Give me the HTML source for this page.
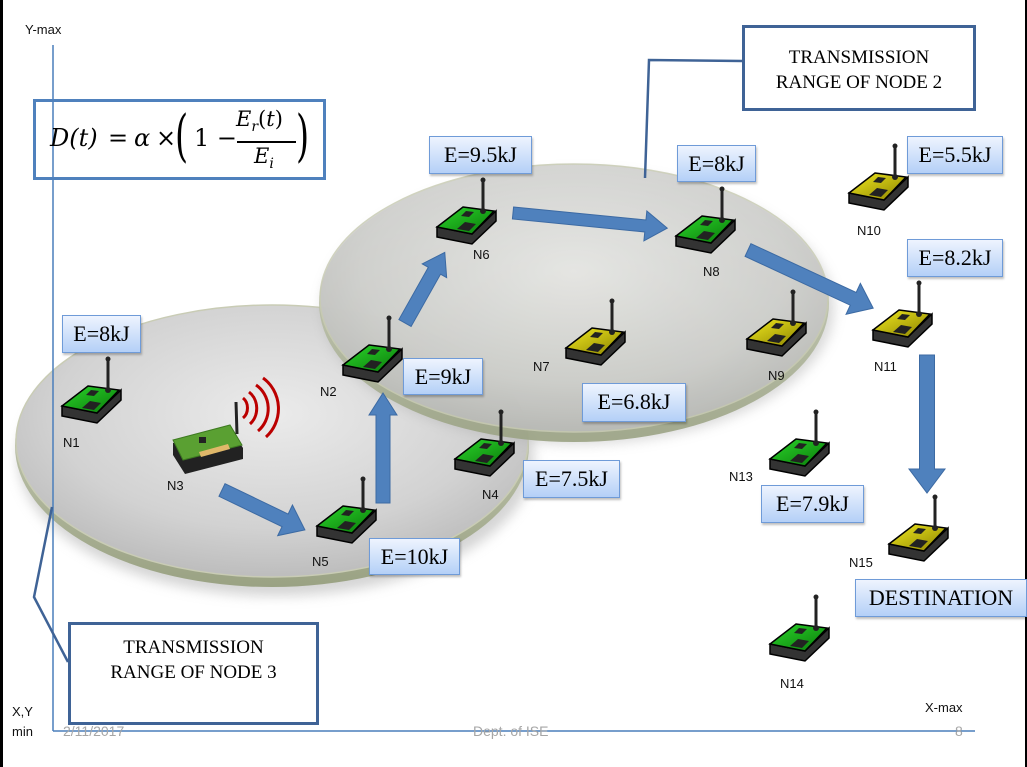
<!DOCTYPE html>
<html><head><meta charset="utf-8"><style>
html,body{margin:0;padding:0;background:#fff;}
body{width:1027px;height:767px;overflow:hidden;position:relative;font-family:"Liberation Sans",sans-serif;}
.eb{position:absolute;box-sizing:border-box;border:1.5px solid #6f9bd8;background:linear-gradient(#eef4fe,#b4d0f7);font-family:"Liberation Serif",serif;font-size:22px;color:#000;text-align:center;line-height:35px;box-shadow:1px 2px 2px rgba(0,0,0,0.25);}
.tb{position:absolute;box-sizing:border-box;border:3px solid #3f6396;background:#fff;font-family:"Liberation Serif",serif;font-size:19px;text-align:center;line-height:25px;}
.t{position:absolute;font-size:13px;color:#111;}
.ft{position:absolute;font-size:14px;color:#a6a6a6;}
</style></head><body>
<svg width="1027" height="767" style="position:absolute;left:0;top:0">
<defs>
<radialGradient id="disc" cx="50%" cy="40%" r="60%">
<stop offset="0" stop-color="#ebebeb"/><stop offset="0.7" stop-color="#d2d2d2"/><stop offset="1" stop-color="#bdbdbd"/>
</radialGradient>
<linearGradient id="rim" x1="0" y1="0" x2="0" y2="1">
<stop offset="0" stop-color="#d9dccb"/><stop offset="1" stop-color="#9aa283"/>
</linearGradient>
<linearGradient id="gtop" x1="0" y1="0" x2="1" y2="1"><stop offset="0" stop-color="#2bd52b"/><stop offset="1" stop-color="#0a7a0a"/></linearGradient>
<linearGradient id="ytop" x1="0" y1="0" x2="1" y2="1"><stop offset="0" stop-color="#f2ea20"/><stop offset="1" stop-color="#8a8200"/></linearGradient>
<g id="devbase">
<polygon points="-46,47 -11,54 13,31 13,41 -11,64 -46,57" fill="#333" stroke="#000" stroke-width="1.5"/>
</g>
<g id="chips">
<polygon points="-17,31 -9,32 -14,37 -22,36" fill="#222"/>
<polygon points="-18,42 -7,44 -14,51 -26,49" fill="#222"/>
<line x1="0" y1="0" x2="0" y2="30" stroke="#222" stroke-width="3"/>
<circle cx="0" cy="0" r="2.5" fill="#222"/>
<circle cx="0" cy="31" r="3" fill="#222"/>
</g>
<g id="gdev"><use href="#devbase"/><polygon points="-20,27 11,31 -11,54 -46,47" fill="url(#gtop)" stroke="#000" stroke-width="1.5"/><use href="#chips"/></g>
<g id="ydev"><use href="#devbase"/><polygon points="-20,27 11,31 -11,54 -46,47" fill="url(#ytop)" stroke="#000" stroke-width="1.5"/><use href="#chips"/></g>
<filter id="sh" x="-10%" y="-10%" width="120%" height="130%"><feGaussianBlur stdDeviation="6"/></filter>
</defs>
<rect x="0" y="0" width="3" height="767" fill="#000"/>
<rect x="1025" y="0" width="2" height="767" fill="#000"/>
<!-- disc 1 -->
<ellipse cx="276" cy="458" rx="258" ry="138" fill="#aaa" opacity="0.5" filter="url(#sh)"/>
<ellipse cx="272" cy="446" rx="257" ry="141" fill="url(#rim)"/>
<ellipse cx="272" cy="441" rx="256" ry="136" fill="url(#disc)" stroke="#c9ccb5" stroke-width="1.5"/>
<!-- disc 2 -->
<ellipse cx="578" cy="308" rx="256" ry="136" fill="#aaa" opacity="0.45" filter="url(#sh)"/>
<ellipse cx="574" cy="303" rx="255" ry="139" fill="url(#rim)" opacity="0.9"/>
<ellipse cx="574" cy="298" rx="254" ry="134" fill="url(#disc)" opacity="0.85" stroke="#c9ccb5" stroke-width="1.5"/>
<line x1="53" y1="45" x2="53" y2="731" stroke="#4a7ebb" stroke-width="1.5"/>
<line x1="53" y1="731" x2="975" y2="731" stroke="#4a7ebb" stroke-width="1.5"/>
<polyline points="68,662 34,597 52,507" fill="none" stroke="#3f6396" stroke-width="2.5"/>
<polyline points="742,61 649,60 645,178" fill="none" stroke="#3f6396" stroke-width="2.5"/>
<g fill="#4f81bd" stroke="#3c6aa3" stroke-width="1">
<polygon transform="translate(222,490) rotate(25.7)" points="0,-7 70,-7 70,-17 92,0 70,17 70,7 0,7"/>
<polygon transform="translate(383,503) rotate(-90)" points="0,-7 88,-7 88,-14 110,0 88,14 88,7 0,7"/>
<polygon transform="translate(405,323) rotate(-60.6)" points="0,-7 60,-7 60,-14 81,0 60,14 60,7 0,7"/>
<polygon transform="translate(513,213) rotate(5.6)" points="0,-6 133,-6 133,-15 155,0 133,15 133,6 0,6"/>
<polygon transform="translate(748,250) rotate(24.9)" points="0,-7 116,-7 116,-17 138,0 116,17 116,7 0,7"/>
<polygon transform="translate(927,355) rotate(90)" points="0,-7.5 114,-7.5 114,-18 138,0 114,18 114,7.5 0,7.5"/>
</g>
<use href="#gdev" x="108" y="359"/>
<use href="#gdev" x="389" y="318"/>
<use href="#gdev" x="483" y="180"/>
<use href="#gdev" x="722" y="189"/>
<use href="#ydev" x="895" y="146"/>
<use href="#ydev" x="919" y="283"/>
<use href="#ydev" x="793" y="292"/>
<use href="#ydev" x="612" y="301"/>
<use href="#gdev" x="501" y="412"/>
<use href="#gdev" x="363" y="479"/>
<use href="#gdev" x="816" y="412"/>
<use href="#ydev" x="935" y="497"/>
<use href="#gdev" x="816" y="597"/>
<polygon points="173,443 230,428 243,448 243,459 185,474 173,455" fill="#222"/>
<polygon points="173,440 230,425 242,445 183,460" fill="#5aa032" stroke="#3d7a20" stroke-width="1"/>
<rect x="199" y="437" width="7" height="6" fill="#222"/>
<polygon points="199,452 228,444 230,449 201,457" fill="#e0b86a"/>
<line x1="237" y1="434" x2="236" y2="402" stroke="#222" stroke-width="3"/>
<g fill="none" stroke="#b00" stroke-width="3">
<path d="M243,398 A10,12 0 0 1 243,418"/>
<path d="M249,392 A18,20 0 0 1 250,424"/>
<path d="M256,385 A26,28 0 0 1 258,431"/>
<path d="M263,378 A35,37 0 0 1 266,437"/>
</g>
</svg>
<div style="position:absolute;left:33px;top:99px;width:293px;height:81px;box-sizing:border-box;border:3px solid #4f81bd;font-family:'DejaVu Serif','Liberation Serif',serif;">
<div style="position:absolute;left:14px;top:22px;font-size:24px;font-style:italic">D(t)</div>
<div style="position:absolute;left:72px;top:22px;font-size:24px">=</div>
<div style="position:absolute;left:98px;top:22px;font-size:24px;font-style:italic">α</div>
<div style="position:absolute;left:120px;top:22px;font-size:24px">×</div>
<div style="position:absolute;left:139px;top:2px;font-size:56px;font-weight:100;transform:scaleX(0.6);transform-origin:left">(</div>
<div style="position:absolute;left:158px;top:22px;font-size:24px">1 −</div>
<div style="position:absolute;left:200px;top:5px;font-size:21px;font-style:italic">E<sub style="font-size:14px">r</sub><span style="font-style:normal">(</span>t<span style="font-style:normal">)</span></div>
<div style="position:absolute;left:201px;top:39px;width:59px;height:1.5px;background:#000"></div>
<div style="position:absolute;left:218px;top:42px;font-size:21px;font-style:italic">E<sub style="font-size:14px">i</sub></div>
<div style="position:absolute;left:260px;top:2px;font-size:56px;font-weight:100;transform:scaleX(0.6);transform-origin:left">)</div>
</div>
<div class="tb" style="left:742px;top:25px;width:234px;height:86px;padding-top:17px">TRANSMISSION<br>RANGE OF NODE 2</div>
<div class="tb" style="left:68px;top:622px;width:251px;height:103px;padding-top:10px">TRANSMISSION<br>RANGE OF NODE 3</div>
<div class="eb" style="left:62px;top:315px;width:79px;height:38px">E=8kJ</div>
<div class="eb" style="left:429px;top:136px;width:103px;height:38px">E=9.5kJ</div>
<div class="eb" style="left:403px;top:358px;width:80px;height:37px">E=9kJ</div>
<div class="eb" style="left:369px;top:538px;width:91px;height:37px">E=10kJ</div>
<div class="eb" style="left:677px;top:145px;width:79px;height:37px">E=8kJ</div>
<div class="eb" style="left:907px;top:136px;width:96px;height:38px">E=5.5kJ</div>
<div class="eb" style="left:907px;top:239px;width:96px;height:38px">E=8.2kJ</div>
<div class="eb" style="left:582px;top:383px;width:104px;height:39px">E=6.8kJ</div>
<div class="eb" style="left:523px;top:460px;width:97px;height:38px">E=7.5kJ</div>
<div class="eb" style="left:761px;top:485px;width:103px;height:38px">E=7.9kJ</div>
<div class="eb" style="left:855px;top:579px;width:172px;height:38px">DESTINATION</div>
<div class="t" style="left:63px;top:435px">N1</div>
<div class="t" style="left:320px;top:384px">N2</div>
<div class="t" style="left:167px;top:478px">N3</div>
<div class="t" style="left:482px;top:487px">N4</div>
<div class="t" style="left:312px;top:554px">N5</div>
<div class="t" style="left:473px;top:247px">N6</div>
<div class="t" style="left:533px;top:359px">N7</div>
<div class="t" style="left:703px;top:264px">N8</div>
<div class="t" style="left:768px;top:368px">N9</div>
<div class="t" style="left:857px;top:223px">N10</div>
<div class="t" style="left:874px;top:359px">N11</div>
<div class="t" style="left:729px;top:469px">N13</div>
<div class="t" style="left:780px;top:676px">N14</div>
<div class="t" style="left:849px;top:555px">N15</div>
<div class="t" style="left:25px;top:22px">Y-max</div>
<div class="t" style="left:12px;top:704px">X,Y</div>
<div class="t" style="left:12px;top:724px">min</div>
<div class="t" style="left:925px;top:700px">X-max</div>
<div class="ft" style="left:63px;top:723px">2/11/2017</div>
<div class="ft" style="left:473px;top:723px">Dept. of ISE</div>
<div class="ft" style="left:955px;top:723px">8</div>
</body></html>
